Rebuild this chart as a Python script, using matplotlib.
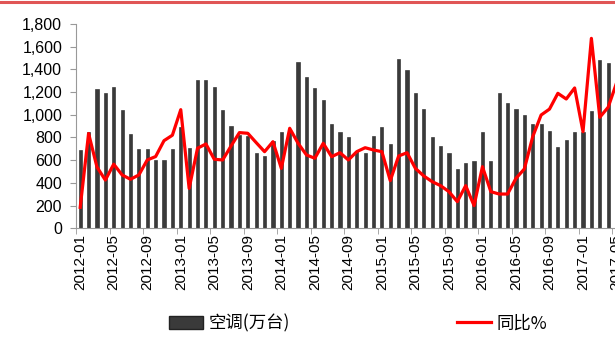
import matplotlib
matplotlib.use('Agg')
import matplotlib.pyplot as plt
from matplotlib.lines import Line2D
from matplotlib.patches import Patch
import numpy as np

# monthly categories 2012-01 .. 2017-05
months = ['%d-%02d' % (2012 + i // 12, i % 12 + 1) for i in range(65)]

# 空调 output (万台)
ac_output = [690, 850, 1230, 1195, 1245, 1040, 830, 700, 700, 605, 605, 700,
             895, 710, 1310, 1305, 1245, 1045, 900, 820, 810, 665, 635, 770,
             850, 860, 1465, 1335, 1240, 1130, 915, 850, 805, 685, 665, 810,
             890, 740, 1490, 1395, 1195, 1055, 800, 725, 660, 520, 575, 595,
             850, 595, 1190, 1105, 1055, 1000, 920, 920, 855, 720, 780, 850,
             845, 1030, 1485, 1455, 1420]

# 同比% line
yoy = [185, 835, 540, 425, 565, 470, 432, 470, 602, 632, 772, 820,
       1045, 352, 705, 743, 608, 602, 725, 843, 837, 755, 675, 763,
       528, 881, 749, 646, 617, 749, 631, 666, 602, 675, 710, 690,
       675, 420, 637, 666, 528, 461, 411, 376, 323, 235, 376, 200,
       543, 323, 302, 302, 440, 523, 807, 998, 1050, 1189, 1139, 1236,
       851, 1673, 978, 1066, 1280]

plt.rcParams['font.family'] = ['Liberation Sans', 'Noto Sans CJK SC', 'DejaVu Sans']

fig = plt.figure(figsize=(6.15, 3.47), dpi=100)
# axes runs past the right edge, the reference is cropped there
ax = fig.add_axes([0.1236, 0.342, 0.8857, 0.589])

x = np.arange(len(months))
ax.bar(x, ac_output, width=0.38, color='#3a3a3a', edgecolor='#222222', linewidth=0.4,
       label='空调(万台)', zorder=2)
ax.plot(x, yoy, color='#ff0000', linewidth=2.3, label='同比%', zorder=3)

ax.set_xlim(-0.5, 64.5)
ax.set_ylim(0, 1800)
ax.set_yticks(range(0, 1801, 200))
ax.set_yticklabels(['{:,}'.format(v) for v in range(0, 1801, 200)], fontsize=11.5)

ax.set_xticks(x[::4])
ax.set_xticklabels(months[::4], rotation=90, fontsize=11)
ax.tick_params(axis='x', length=0, pad=4)
# tick marks between categories, every 4 months
ax.set_xticks(np.arange(-0.5, 65, 4), minor=True)
ax.tick_params(axis='x', which='minor', length=4, color='#999999')
ax.tick_params(axis='y', length=4, color='#999999', pad=6)

for s in ['top', 'right']:
    ax.spines[s].set_visible(False)
ax.spines['left'].set_color('#999999')
ax.spines['bottom'].set_color('#999999')

handles = [Patch(facecolor='#3a3a3a', edgecolor='#222222', label='空调(万台)'),
           Line2D([0], [0], color='#ff0000', linewidth=2.3, label='同比%')]
fig.legend(handles=handles, loc='center', bbox_to_anchor=(0.582, 0.068), ncol=2,
           frameon=False, handlelength=2.0, handleheight=0.7,
           columnspacing=9.6, handletextpad=0.3,
           prop={'family': ['Noto Sans CJK SC', 'DejaVu Sans'], 'size': 12.5})

# red header rule at the very top
fig.add_artist(Line2D([0, 1], [0.995, 0.995], color='#e05555', linewidth=2.2,
                      transform=fig.transFigure))

fig.savefig('out.png', dpi=100)
